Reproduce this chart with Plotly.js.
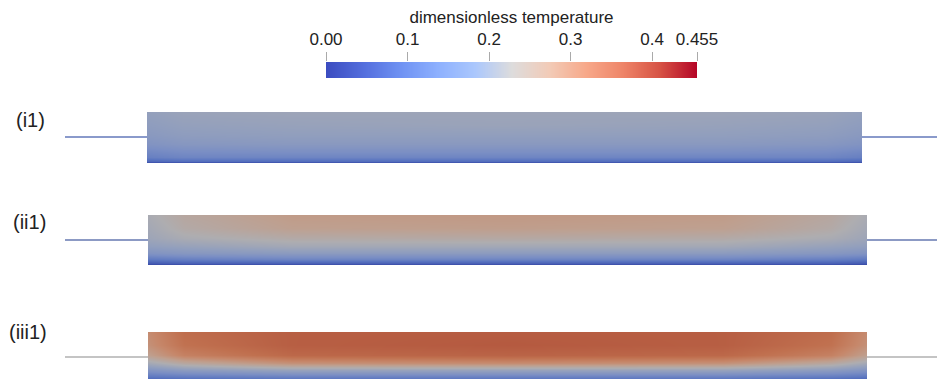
<!DOCTYPE html>
<html>
<head>
<meta charset="utf-8">
<script src="https://cdn.plot.ly/plotly-3.0.1.min.js"></script>
<style>html,body{margin:0;padding:0;background:#fff;}#chart{width:937px;height:379px;}</style>
</head>
<body>
<div id="chart"></div>
<script>
// ---- data ----
const cbarValues = [0, 0.1, 0.2, 0.3, 0.4, 0.455];
const cbarTickText = ['0.00', '0.1', '0.2', '0.3', '0.4', '0.455'];
const cbarTitle = 'dimensionless temperature';
const panelLabels = ['(i1)', '(ii1)', '(iii1)'];

// normalised positions along the channel (x) and across it (y, 0 = bottom wall)
const xPos = [0, 0.05, 0.2, 0.5, 0.8, 0.95, 1];
const yPos = [0, 0.04, 0.12, 0.25, 0.38, 0.55, 0.75, 1];

const tempI1 = [
  [0.01, 0.01, 0.01, 0.01, 0.01, 0.01, 0.01],
  [0.07, 0.08, 0.08, 0.08, 0.08, 0.08, 0.07],
  [0.11, 0.12, 0.12, 0.12, 0.12, 0.12, 0.11],
  [0.13, 0.14, 0.145, 0.145, 0.145, 0.14, 0.13],
  [0.15, 0.16, 0.165, 0.165, 0.165, 0.16, 0.15],
  [0.165, 0.175, 0.18, 0.18, 0.18, 0.175, 0.165],
  [0.175, 0.185, 0.19, 0.195, 0.19, 0.185, 0.175],
  [0.185, 0.195, 0.2, 0.2, 0.2, 0.195, 0.185]
];
const tempII1 = [
  [0.01, 0.01, 0.01, 0.01, 0.01, 0.01, 0.01],
  [0.05, 0.06, 0.06, 0.06, 0.06, 0.06, 0.05],
  [0.10, 0.11, 0.12, 0.12, 0.12, 0.11, 0.10],
  [0.15, 0.16, 0.17, 0.17, 0.17, 0.16, 0.15],
  [0.18, 0.19, 0.21, 0.21, 0.21, 0.19, 0.18],
  [0.20, 0.22, 0.24, 0.245, 0.24, 0.22, 0.20],
  [0.21, 0.24, 0.27, 0.275, 0.27, 0.24, 0.21],
  [0.22, 0.25, 0.28, 0.285, 0.28, 0.25, 0.22]
];
const tempIII1 = [
  [0.02, 0.02, 0.02, 0.02, 0.02, 0.02, 0.02],
  [0.06, 0.07, 0.08, 0.08, 0.08, 0.07, 0.06],
  [0.10, 0.11, 0.12, 0.12, 0.12, 0.11, 0.10],
  [0.15, 0.17, 0.19, 0.19, 0.19, 0.17, 0.15],
  [0.21, 0.25, 0.30, 0.31, 0.30, 0.25, 0.21],
  [0.27, 0.33, 0.38, 0.39, 0.38, 0.33, 0.27],
  [0.30, 0.36, 0.40, 0.41, 0.40, 0.36, 0.30],
  [0.31, 0.37, 0.40, 0.405, 0.40, 0.37, 0.31]
];

// ---- styles ----
const coolwarm = [
  [0.0, '#3b4cc0'], [0.1, '#536edd'], [0.2, '#6f92f3'], [0.3, '#8db0fe'],
  [0.4, '#aac7fd'], [0.5, '#dddcdc'], [0.6, '#f2cbb7'], [0.7, '#f7a889'],
  [0.8, '#ee8468'], [0.9, '#d65244'], [1.0, '#b40426']
];
// same map as seen on the shaded (lit) surfaces
const coolwarmLit = [
  [0.0, '#2f3d9a'], [0.1, '#4258b1'], [0.2, '#5a75c0'], [0.3, '#7a8ec4'],
  [0.4, '#929fbd'], [0.5, '#aeadb0'], [0.6, '#bf9f8e'], [0.7, '#c6876a'],
  [0.8, '#c0704f'], [0.9, '#b55a40'], [1.0, '#9a2226']
];
const zmin = 0, zmax = 0.455;
const W = 937, H = 379;
const px = v => v / W;
const py = v => 1 - v / H;

const traces = [
  {type: 'heatmap', x: cbarValues, y: [0, 1], z: [cbarValues, cbarValues],
   zmin, zmax, colorscale: coolwarm, zsmooth: 'best', showscale: false,
   xaxis: 'x', yaxis: 'y', hoverinfo: 'skip'},
  {type: 'heatmap', x: xPos, y: yPos, z: tempI1, zmin, zmax, colorscale: coolwarmLit,
   zsmooth: 'best', showscale: false, xaxis: 'x2', yaxis: 'y2'},
  {type: 'heatmap', x: xPos, y: yPos, z: tempII1, zmin, zmax, colorscale: coolwarmLit,
   zsmooth: 'best', showscale: false, xaxis: 'x3', yaxis: 'y3'},
  {type: 'heatmap', x: xPos, y: yPos, z: tempIII1, zmin, zmax, colorscale: coolwarmLit,
   zsmooth: 'best', showscale: false, xaxis: 'x4', yaxis: 'y4'}
];

const hidden = {showgrid: false, zeroline: false, showticklabels: false, ticks: '', showline: false, fixedrange: true};

const layout = {
  width: W, height: H,
  margin: {l: 0, r: 0, t: 0, b: 0},
  paper_bgcolor: '#fff', plot_bgcolor: '#fff',
  font: {family: 'Liberation Sans, Arial, sans-serif', color: '#222'},
  showlegend: false,
  xaxis: {domain: [px(326), px(697)], anchor: 'y', side: 'top', range: [0, 0.455],
          tickvals: cbarValues, ticktext: cbarTickText, ticks: 'outside', ticklen: 9,
          tickcolor: '#aaa', tickwidth: 1, showgrid: false, zeroline: false, showline: false,
          tickfont: {size: 17, color: '#222'},
          title: {text: cbarTitle, font: {size: 17, color: '#222'}, standoff: 2}},
  yaxis: Object.assign({domain: [py(78), py(62)], anchor: 'x', range: [0, 1]}, hidden),
  xaxis2: Object.assign({domain: [px(147), px(862)], anchor: 'y2', range: [0, 1]}, hidden),
  yaxis2: Object.assign({domain: [py(163), py(112)], anchor: 'x2', range: [0, 1]}, hidden),
  xaxis3: Object.assign({domain: [px(148), px(867)], anchor: 'y3', range: [0, 1]}, hidden),
  yaxis3: Object.assign({domain: [py(265), py(215)], anchor: 'x3', range: [0, 1]}, hidden),
  xaxis4: Object.assign({domain: [px(148), px(867)], anchor: 'y4', range: [0, 1]}, hidden),
  yaxis4: Object.assign({domain: [0, py(332)], anchor: 'x4', range: [0.06, 1]}, hidden),
  shapes: [
    {type: 'line', xref: 'paper', yref: 'paper', x0: px(65), x1: px(147), y0: py(137), y1: py(137), line: {color: '#8a9acb', width: 2}},
    {type: 'line', xref: 'paper', yref: 'paper', x0: px(862), x1: px(937), y0: py(137), y1: py(137), line: {color: '#8a9acb', width: 2}},
    {type: 'line', xref: 'paper', yref: 'paper', x0: px(65), x1: px(148), y0: py(240), y1: py(240), line: {color: '#8c9ac4', width: 2}},
    {type: 'line', xref: 'paper', yref: 'paper', x0: px(867), x1: px(937), y0: py(240), y1: py(240), line: {color: '#8c9ac4', width: 2}},
    {type: 'line', xref: 'paper', yref: 'paper', x0: px(65), x1: px(148), y0: py(357), y1: py(357), line: {color: '#c4c4c4', width: 2}},
    {type: 'line', xref: 'paper', yref: 'paper', x0: px(867), x1: px(937), y0: py(357), y1: py(357), line: {color: '#c4c4c4', width: 2}}
  ],
  annotations: [
    {text: panelLabels[0], xref: 'paper', yref: 'paper', x: px(14), y: py(120), xanchor: 'left', yanchor: 'middle', showarrow: false, font: {size: 20, color: '#222'}},
    {text: panelLabels[1], xref: 'paper', yref: 'paper', x: px(11), y: py(222), xanchor: 'left', yanchor: 'middle', showarrow: false, font: {size: 20, color: '#222'}},
    {text: panelLabels[2], xref: 'paper', yref: 'paper', x: px(7), y: py(332), xanchor: 'left', yanchor: 'middle', showarrow: false, font: {size: 20, color: '#222'}}
  ]
};

Plotly.newPlot('chart', traces, layout, {staticPlot: true, displayModeBar: false});
</script>
</body>
</html>
